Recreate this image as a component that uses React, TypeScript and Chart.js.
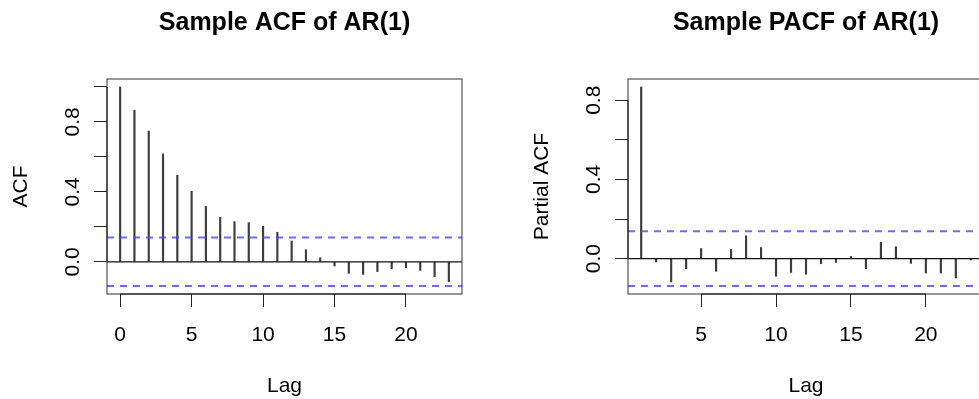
import React, { useEffect, useRef } from 'react';
import { Chart, registerables } from 'chart.js';

Chart.register(...registerables);

// Series length used for the ±1.96/sqrt(n) significance bounds
const N_OBS = 200;

const ACF_LAGS = [0, 1, 2, 3, 4, 5, 6, 7, 8, 9, 10, 11, 12, 13, 14, 15, 16, 17, 18, 19, 20, 21, 22, 23];
const ACF_VALUES = [
  1.0, 0.867, 0.748, 0.617, 0.495, 0.404, 0.317, 0.254, 0.23, 0.224, 0.203, 0.169,
  0.119, 0.069, 0.023, -0.024, -0.066, -0.072, -0.056, -0.04, -0.034, -0.049, -0.085, -0.114,
];

const PACF_LAGS = [1, 2, 3, 4, 5, 6, 7, 8, 9, 10, 11, 12, 13, 14, 15, 16, 17, 18, 19, 20, 21, 22, 23];
const PACF_VALUES = [
  0.867, -0.017, -0.118, -0.051, 0.051, -0.064, 0.046, 0.115, 0.056, -0.089, -0.07, -0.079,
  -0.026, -0.019, 0.011, -0.051, 0.083, 0.06, -0.024, -0.073, -0.073, -0.098, -0.007,
];

const ACF_X_TICKS = [0, 5, 10, 15, 20];
const PACF_X_TICKS = [5, 10, 15, 20];
const ACF_Y_TICKS = [0, 0.2, 0.4, 0.6, 0.8, 1.0];
const PACF_Y_TICKS = [0, 0.2, 0.4, 0.6, 0.8];
const Y_TICK_LABELS = [0, 0.4, 0.8];

const FONT = '"Liberation Sans", Arial, Helvetica, sans-serif';

// Axis limits padded by 4% on each side, as base R graphics does
function paddedRange(lo: number, hi: number): [number, number] {
  const d = (hi - lo) * 0.04;
  return [lo - d, hi + d];
}

// Box, axis line, titles and tick labels in base-R style
const rFrame = {
  id: 'rFrame',
  afterDraw(chart: any, _args: any, o: any) {
    const { ctx, chartArea: a } = chart;
    const xs = chart.scales.x;
    const ys = chart.scales.y;
    ctx.save();
    ctx.strokeStyle = '#333';
    ctx.lineWidth = 1;
    ctx.strokeRect(a.left, a.top, a.right - a.left, a.bottom - a.top);

    // x axis line between outermost ticks
    ctx.strokeStyle = '#111';
    ctx.beginPath();
    ctx.moveTo(xs.getPixelForValue(o.xTicks[0]), a.bottom);
    ctx.lineTo(xs.getPixelForValue(o.xTicks[o.xTicks.length - 1]), a.bottom);
    ctx.stroke();
    // y axis line between outermost ticks
    ctx.beginPath();
    ctx.moveTo(a.left, ys.getPixelForValue(o.yTicks[0]));
    ctx.lineTo(a.left, ys.getPixelForValue(o.yTicks[o.yTicks.length - 1]));
    ctx.stroke();

    const cx = (a.left + a.right) / 2;
    const cy = (a.top + a.bottom) / 2;
    ctx.fillStyle = '#000';
    ctx.textAlign = 'center';
    ctx.textBaseline = 'alphabetic';

    ctx.font = `bold 25px ${FONT}`;
    ctx.fillText(o.title, cx, a.top - 49);

    ctx.font = `21px ${FONT}`;
    o.xTicks.forEach((v: number) => ctx.fillText(String(v), xs.getPixelForValue(v), a.bottom + 47));
    ctx.fillText('Lag', cx, a.bottom + 98);

    o.yLabels.forEach((v: number) => {
      ctx.save();
      ctx.translate(a.left - 28.5, ys.getPixelForValue(v));
      ctx.rotate(-Math.PI / 2);
      ctx.fillText(v.toFixed(1), 0, 0);
      ctx.restore();
    });
    ctx.save();
    ctx.translate(a.left - 80.5, cy);
    ctx.rotate(-Math.PI / 2);
    ctx.fillText(o.yLabel, 0, 0);
    ctx.restore();
    ctx.restore();
  },
};

type PanelProps = {
  title: string;
  yLabel: string;
  lags: number[];
  values: number[];
  xTicks: number[];
  yTicks: number[];
  left: number;
  width: number;
  padding: { left: number; right: number; top: number; bottom: number };
};

function CorrelogramPanel(p: PanelProps) {
  const ref = useRef<HTMLCanvasElement | null>(null);

  useEffect(() => {
    if (!ref.current) return;
    const ci = 1.96 / Math.sqrt(N_OBS);
    const [xmin, xmax] = paddedRange(Math.min(...p.lags), Math.max(...p.lags));
    const [ymin, ymax] = paddedRange(Math.min(-ci, ...p.values), Math.max(ci, ...p.values));

    const hLine = (y: number) => [
      { x: xmin, y },
      { x: xmax, y },
    ];

    const tickAxis = (ticks: number[], horizontal: boolean, min: number, max: number) => ({
      type: 'linear' as const,
      min,
      max,
      offset: false,
      afterBuildTicks: (s: any) => {
        s.ticks = ticks.map((v) => ({ value: v }));
      },
      afterFit: (s: any) => {
        if (horizontal) s.height = 10;
        else s.width = 10;
      },
      ticks: { display: false },
      grid: {
        offset: false,
        drawOnChartArea: false,
        drawTicks: true,
        tickLength: 13,
        tickColor: '#222',
        tickWidth: 1,
      },
      border: { display: false },
    });

    const ciLine = (y: number) => ({
      type: 'line' as const,
      data: hLine(y),
      borderColor: 'rgba(70, 70, 255, 0.8)',
      borderWidth: 2,
      borderDash: [7, 6],
      pointRadius: 0,
      order: 1,
    });

    const chart = new Chart(ref.current, {
      type: 'bar',
      data: {
        datasets: [
          {
            type: 'bar',
            data: p.lags.map((l, i) => ({ x: l, y: p.values[i] })),
            backgroundColor: '#3d3d3d',
            borderWidth: 0,
            barThickness: 1.5,
            order: 3,
          } as any,
          {
            type: 'line',
            data: hLine(0),
            borderColor: '#111',
            borderWidth: 1.2,
            pointRadius: 0,
            order: 2,
          },
          ciLine(ci),
          ciLine(-ci),
        ],
      },
      options: {
        responsive: false,
        maintainAspectRatio: false,
        animation: false,
        devicePixelRatio: 1,
        layout: { padding: p.padding },
        plugins: {
          legend: { display: false },
          tooltip: { enabled: false },
          rFrame: {
            title: p.title,
            yLabel: p.yLabel,
            xTicks: p.xTicks,
            yTicks: p.yTicks,
            yLabels: Y_TICK_LABELS,
          },
        } as any,
        scales: {
          x: tickAxis(p.xTicks, true, xmin, xmax) as any,
          y: tickAxis(p.yTicks, false, ymin, ymax) as any,
        },
      },
      plugins: [rFrame],
    });
    return () => chart.destroy();
  }, []);

  return (
    <canvas
      ref={ref}
      width={p.width}
      height={399}
      style={{ position: 'absolute', left: p.left, top: 0, width: p.width, height: 399, display: 'block' }}
    />
  );
}

export default function App() {
  return (
    <div
      style={{
        position: 'fixed',
        left: 0,
        top: 0,
        width: 979,
        height: 399,
        overflow: 'hidden',
        background: '#fff',
      }}
    >
      <CorrelogramPanel
        title="Sample ACF of AR(1)"
        yLabel="ACF"
        lags={ACF_LAGS}
        values={ACF_VALUES}
        xTicks={ACF_X_TICKS}
        yTicks={ACF_Y_TICKS}
        left={0}
        width={490}
        padding={{ left: 97, right: 28, top: 79, bottom: 95 }}
      />
      <CorrelogramPanel
        title="Sample PACF of AR(1)"
        yLabel="Partial ACF"
        lags={PACF_LAGS}
        values={PACF_VALUES}
        xTicks={PACF_X_TICKS}
        yTicks={PACF_Y_TICKS}
        left={490}
        width={500}
        padding={{ left: 128, right: 6, top: 79, bottom: 95 }}
      />
    </div>
  );
}
